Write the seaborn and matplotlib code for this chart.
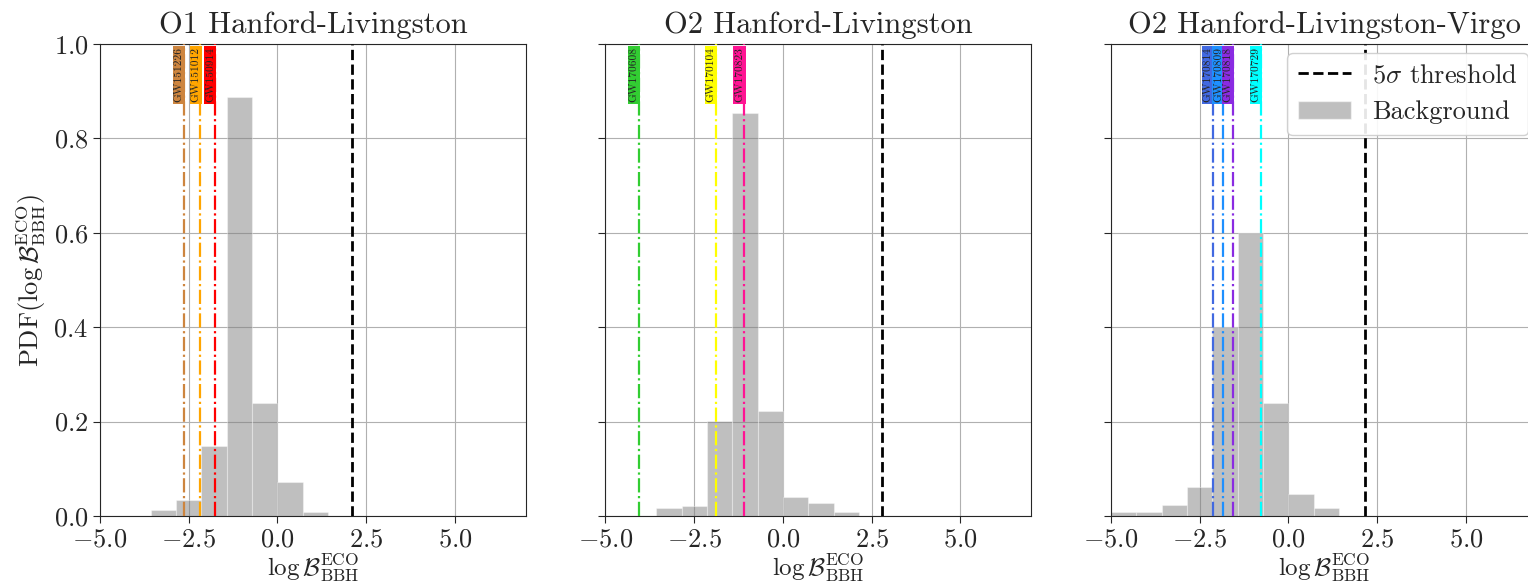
import numpy as np
import pandas as pd
import seaborn as sns
import matplotlib.pyplot as plt
import matplotlib.transforms as mtransforms
from matplotlib.lines import Line2D
from matplotlib.patches import Patch

# background histogram (PDF per bin), bins of width 5/7 starting at -5
bin_lo = -5.0
bin_hi = 15.0 / 7.0
n_bins = 10
o1_hl_bg = [0.0, 0.0, 0.012, 0.033, 0.148, 0.888, 0.239, 0.071, 0.008, 0.0]
o2_hl_bg = [0.0, 0.0, 0.016, 0.021, 0.202, 0.854, 0.222, 0.041, 0.027, 0.008]
o2_hlv_bg = [0.009, 0.009, 0.023, 0.062, 0.400, 0.600, 0.239, 0.047, 0.016, 0.0]

# events: names, log Bayes factors, colours
o1_hl_events = ["GW151226", "GW151012", "GW150914"]
o1_hl_vals = [-2.64, -2.17, -1.76]
o1_hl_cols = ["peru", "orange", "red"]

o2_hl_events = ["GW170608", "GW170104", "GW170823"]
o2_hl_vals = [-4.06, -1.90, -1.09]
o2_hl_cols = ["limegreen", "yellow", "deeppink"]

o2_hlv_events = ["GW170814", "GW170809", "GW170818", "GW170729"]
o2_hlv_vals = [-2.14, -1.84, -1.57, -0.78]
o2_hlv_cols = ["royalblue", "dodgerblue", "blueviolet", "cyan"]

thresholds = [2.09, 2.78, 2.15]
titles = ["O1 Hanford-Livingston", "O2 Hanford-Livingston", "O2 Hanford-Livingston-Virgo"]

sns.set_style("ticks", {"axes.grid": True, "grid.color": "#b0b0b0"})
plt.rcParams["font.family"] = "serif"
plt.rcParams["font.serif"] = ["cmr10"]
plt.rcParams["mathtext.fontset"] = "cm"
plt.rcParams["axes.formatter.use_mathtext"] = True

edges = np.linspace(bin_lo, bin_hi, n_bins + 1)
centers = 0.5 * (edges[:-1] + edges[1:])

panels = [
    (o1_hl_bg, o1_hl_events, o1_hl_vals, o1_hl_cols),
    (o2_hl_bg, o2_hl_events, o2_hl_vals, o2_hl_cols),
    (o2_hlv_bg, o2_hlv_events, o2_hlv_vals, o2_hlv_cols),
]

fig, axes = plt.subplots(1, 3, figsize=(15.28, 5.85), dpi=100, sharey=True)
fig.subplots_adjust(left=0.0654, right=1.0059, bottom=0.118, top=0.9248, wspace=0.1866)

xlab = r"$\log\mathcal{B}^{\rm ECO}_{\rm BBH}$"

for i, (ax, (bg, names, vals, cols)) in enumerate(zip(axes, panels)):
    df = pd.DataFrame({"logB": centers, "pdf": bg})
    sns.histplot(data=df, x="logB", weights="pdf", bins=edges.tolist(), stat="count",
                 color="grey", alpha=0.5, edgecolor=(1, 1, 1, 0.35),
                 linewidth=0.8, ax=ax)
    trans = mtransforms.blended_transform_factory(ax.transData, ax.transAxes)
    for name, v, c in zip(names, vals, cols):
        ax.axvline(v, color=c, ls="-.", lw=1.6, zorder=3)
        ax.text(v, 0.993, name, rotation=90, ha="right", va="top",
                fontsize=8.2, transform=trans, zorder=4,
                bbox=dict(boxstyle="square,pad=0.12", fc=c, ec="none"))
    ax.axvline(thresholds[i], color="k", ls="--", lw=2, zorder=3)
    ax.set_xlim(-5, 7)
    ax.set_ylim(0, 1)
    ax.set_xticks([-5, -2.5, 0, 2.5, 5])
    ax.set_yticks([0, 0.2, 0.4, 0.6, 0.8, 1.0])
    ax.tick_params(labelsize=19, length=5)
    ax.set_title(titles[i], fontsize=22, pad=8)
    ax.set_xlabel(xlab, fontsize=18, labelpad=0)
    ax.set_ylabel("")
    for s in ax.spines.values():
        s.set_visible(True)

axes[0].set_ylabel(r"PDF$(\log\mathcal{B}^{\rm ECO}_{\rm BBH})$", fontsize=19)

handles = [Line2D([], [], color="k", ls="--", lw=2),
           Patch(facecolor="grey", alpha=0.5)]
axes[2].legend(handles, [r"5$\sigma$ threshold", "Background"], loc="upper right",
               fontsize=19, framealpha=0.9, borderaxespad=0.35)

fig.savefig("out.png", dpi=100)
